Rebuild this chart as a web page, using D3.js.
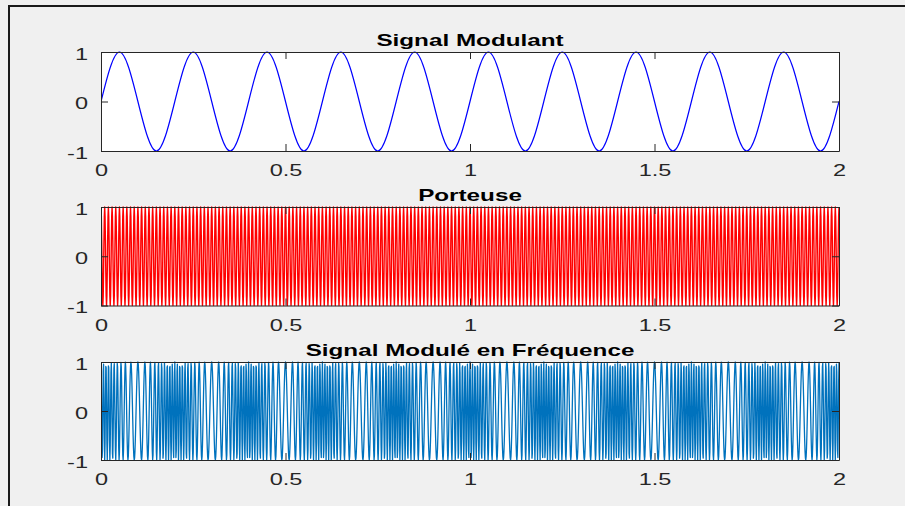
<!DOCTYPE html>
<html><head><meta charset="utf-8">
<script src="https://cdn.jsdelivr.net/npm/d3@7"></script>
<style>
html,body{margin:0;padding:0;background:#f0f0f0;}
svg{display:block;}
</style></head>
<body>
<svg id="chart" width="905" height="506"></svg>
<script>
// ---- data ----
const titles = ["Signal Modulant", "Porteuse", "Signal Modulé en Fréquence"];
const timeDomain = [0, 2];
const valueDomain = [-1, 1];
const timeTicks = [0, 0.5, 1, 1.5, 2];
const valueTicks = [-1, 0, 1];
// modulating signal: 10 periods over 2 s, sampled at quarter periods (0.05 s)
const modulantTimes = d3.range(0, 41).map(i => i * 0.05);
const modulantValues = [0,1,0,-1, 0,1,0,-1, 0,1,0,-1, 0,1,0,-1, 0,1,0,-1,
                        0,1,0,-1, 0,1,0,-1, 0,1,0,-1, 0,1,0,-1, 0,1,0,-1, 0];
// carrier: one period (10 samples at 1 kHz) repeated 200 times in 2 s
const carrierCycle = [1, 0.809, 0.309, -0.309, -0.809, -1, -0.809, -0.309, 0.309, 0.809];
const carrierCycles = [200];
const sampleRate = [1000];
const carrierFreq = [100];
const modulantFreq = [5];
const modulationIndex = [10];

// ---- series ----
const nSamples = carrierCycles[0] * carrierCycle.length;
const sampleTimes = d3.range(0, nSamples + 1).map(i => i / sampleRate[0]);
const carrierValues = sampleTimes.map((t, i) => carrierCycle[i % carrierCycle.length]);
const fmValues = sampleTimes.map(t =>
  Math.cos(2 * Math.PI * carrierFreq[0] * t + modulationIndex[0] * Math.sin(2 * Math.PI * modulantFreq[0] * t)));

const series = [
  {times: modulantTimes, values: modulantValues, color: "#0000ff", width: 1.2, curve: d3.curveNatural},
  {times: sampleTimes, values: carrierValues, color: "#ff0000", width: 1.4, curve: d3.curveLinear},
  {times: sampleTimes, values: fmValues, color: "#0072bd", width: 1.3, curve: d3.curveLinear}
];

// ---- layout ----
const svg = d3.select("#chart");
const SX = 1.47;
svg.append("rect").attr("x", 9).attr("y", 6).attr("width", 920).attr("height", 520)
  .attr("fill", "#f0f0f0").attr("stroke", "#1a1a1a").attr("stroke-width", 2);

const left = 101, right = 839;
const panels = [[52, 151], [207, 305.5], [362, 460]];
const x = d3.scaleLinear().domain(timeDomain).range([left, right]);
const font = "'Liberation Sans', Arial, Helvetica, sans-serif";
const fmt = d => d === 0 ? "0" : (d < 0 ? "-" + Math.abs(d) : String(d));

panels.forEach(([top, bottom], k) => {
  const y = d3.scaleLinear().domain(valueDomain).range([bottom, top]);
  const g = svg.append("g");
  g.append("rect").attr("x", left).attr("y", top).attr("width", right - left).attr("height", bottom - top)
    .attr("fill", "#ffffff");
  const clipId = "clip" + k;
  g.append("clipPath").attr("id", clipId).append("rect")
    .attr("x", left).attr("y", top - 1).attr("width", right - left).attr("height", bottom - top + 2);
  const s = series[k];
  const line = d3.line().x((d, i) => x(s.times[i])).y(d => y(d)).curve(s.curve);
  g.append("path").attr("d", line(s.values)).attr("fill", "none")
    .attr("stroke", s.color).attr("stroke-width", s.width).attr("stroke-linejoin", "round")
    .attr("clip-path", `url(#${clipId})`);

  // axes (ticks inside like MATLAB)
  const axB = g.append("g").attr("transform", `translate(0,${bottom})`)
    .call(d3.axisBottom(x).tickValues(timeTicks).tickSize(-7).tickSizeOuter(0).tickFormat(fmt));
  const axT = g.append("g").attr("transform", `translate(0,${top})`)
    .call(d3.axisTop(x).tickValues(timeTicks).tickSize(-7).tickSizeOuter(0).tickFormat(""));
  const axL = g.append("g").attr("transform", `translate(${left},0)`)
    .call(d3.axisLeft(y).tickValues(valueTicks).tickSize(-7).tickSizeOuter(0).tickFormat(fmt));
  const axR = g.append("g").attr("transform", `translate(${right},0)`)
    .call(d3.axisRight(y).tickValues(valueTicks).tickSize(-7).tickSizeOuter(0).tickFormat(""));
  [axB, axT, axL, axR].forEach(a => {
    a.selectAll("path.domain").attr("stroke", "#262626").attr("stroke-width", 1);
    a.selectAll(".tick line").attr("stroke", "#262626").attr("stroke-width", 1);
  });
  axT.selectAll(".tick text").remove();
  axR.selectAll(".tick text").remove();
  axB.selectAll(".tick text").attr("y", 0).attr("dy", 0)
    .attr("transform", `translate(0,25) scale(${SX},1)`)
    .style("font-family", font).style("font-size", "16px").attr("fill", "#262626");
  axL.selectAll(".tick text").attr("x", 0).attr("dy", "0.45em")
    .attr("transform", `translate(-13,0) scale(${SX},1)`)
    .style("font-family", font).style("font-size", "16px").attr("fill", "#262626");

  g.append("text").attr("transform", `translate(${(left + right) / 2},${top - 6.5}) scale(${SX},1)`)
    .attr("text-anchor", "middle").style("font-family", font).style("font-size", "16.5px")
    .style("font-weight", "bold").attr("fill", "#000").text(titles[k]);
});
</script>
</body></html>
